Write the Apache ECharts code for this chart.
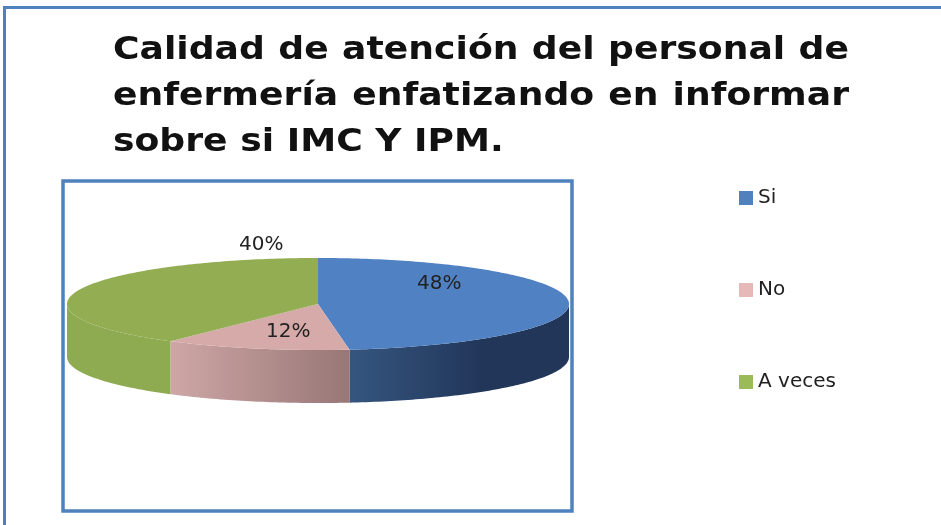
<!DOCTYPE html>
<html>
<head>
<meta charset="utf-8">
<script src="https://cdn.jsdelivr.net/npm/echarts@6/dist/echarts.min.js"></script>
<style>
html,body{margin:0;padding:0;background:#fff;}
#main{width:941px;height:525px;}
</style>
</head>
<body>
<div id="main"></div>
<script>
// data
var titleLines=[
    ['Calidad','de','atención','del','personal','de'],
    ['enfermería','enfatizando','en','informar'],
    ['sobre si IMC Y IPM.']
];
var categories=['Si','No','A veces'];
var values=[48,12,40];

// styles / layout
var legendColors=['#4f81bd','#e6b9b8','#9bbb59'];
var topColors=['#5081c2','#d5aaa9','#93ad53'];
var sideColors=[
    [[0,'#35567f'],[0.6,'#22365a'],[1,'#22365a']],
    [[0,'#cea6a6'],[1,'#987776']],
    [[0,'#8fab52'],[1,'#8fab52']]
];
var labelPlace=[[48,0.65],[191,0.62],[350,1.3]];   // angle from top, radius factor
var PIE={cx:318,cy:304,rx:251,ry:46,depth:53};
var TITLE={x0:113,x1:849,y0:51,lh:46,stretch:1.13,font:'bold 32px "DejaVu Sans"'};

function pt(a,k,dy){
    var r=a*Math.PI/180;
    return [PIE.cx+PIE.rx*k*Math.sin(r), PIE.cy-PIE.ry*k*Math.cos(r)+(dy||0)];
}

function renderSlice(params,api){
    var i=params.seriesIndex;
    var total=0,start=0;
    for(var j=0;j<values.length;j++){
        total+=values[j];
        if(j<i) start+=values[j];
    }
    var v=api.value(0);
    var a0=start/total*360, a1=a0+v/total*360;
    var children=[];

    // front wall
    var s=Math.max(a0,90), e=Math.min(a1,270);
    if(e>s){
        var side=[], bottom=[];
        for(var a=s;a<e;a+=1){
            side.push(pt(a,1));
            bottom.unshift(pt(a,1,PIE.depth));
        }
        side.push(pt(e,1));
        bottom.unshift(pt(e,1,PIE.depth));
        var xl=pt(e,1)[0], xr=pt(s,1)[0];
        children.push({
            type:'polygon',
            shape:{points:side.concat(bottom)},
            style:{fill:new echarts.graphic.LinearGradient(xl,0,xr,0,sideColors[i].map(function(c){return {offset:c[0],color:c[1]};}),true)}
        });
    }

    // top face
    var top=[[PIE.cx,PIE.cy]];
    for(var a=a0;a<a1;a+=1) top.push(pt(a,1));
    top.push(pt(a1,1));
    children.push({type:'polygon',shape:{points:top},style:{fill:topColors[i]}});

    var lp=pt(labelPlace[i][0],labelPlace[i][1]);
    children.push({
        type:'text',
        style:{
            text:Math.round(v/total*100)+'%',
            x:lp[0],y:lp[1],
            align:'center',verticalAlign:'middle',
            font:'20px "DejaVu Sans"',
            fill:'#222'
        }
    });
    return {type:'group',children:children};
}

// justified title words
var ctx=document.createElement('canvas').getContext('2d');
ctx.font=TITLE.font;
var graphics=[];
titleLines.forEach(function(words,li){
    var widths=words.map(function(w){return ctx.measureText(w).width*TITLE.stretch;});
    var sum=widths.reduce(function(p,c){return p+c;},0);
    var gap=(words.length>1)?(TITLE.x1-TITLE.x0-sum)/(words.length-1):0;
    var x=TITLE.x0;
    words.forEach(function(w,wi){
        graphics.push({
            type:'text',x:x,y:TITLE.y0+li*TITLE.lh,scaleX:TITLE.stretch,
            style:{text:w,font:TITLE.font,fill:'#111',verticalAlign:'middle'}
        });
        x+=widths[wi]+gap;
    });
});
graphics.push({
    type:'polyline',
    shape:{points:[[4.5,525],[4.5,7.5],[941,7.5]]},
    style:{stroke:'#4f81bd',lineWidth:3,fill:'none'}
});
graphics.push({
    type:'rect',
    shape:{x:63,y:181,width:509,height:330},
    style:{stroke:'#4f81bd',lineWidth:3.5,fill:'none'}
});

var series=categories.map(function(name,i){
    return {
        name:name,
        type:'custom',
        coordinateSystem:'none',
        silent:true,
        itemStyle:{color:legendColors[i]},
        renderItem:renderSlice,
        data:[{name:name,value:[values[i]]}]
    };
});

var myChart=echarts.init(document.getElementById('main'));
myChart.setOption({
    backgroundColor:'#fff',
    animation:false,
    legend:{
        orient:'vertical',
        left:739,
        top:188,
        padding:0,
        icon:'rect',
        itemWidth:14,
        itemHeight:14,
        itemGap:72,
        data:categories,
        textStyle:{fontFamily:'DejaVu Sans',fontSize:20,color:'#1f1f1f',lineHeight:20}
    },
    graphic:graphics,
    series:series
});
</script>
</body>
</html>
